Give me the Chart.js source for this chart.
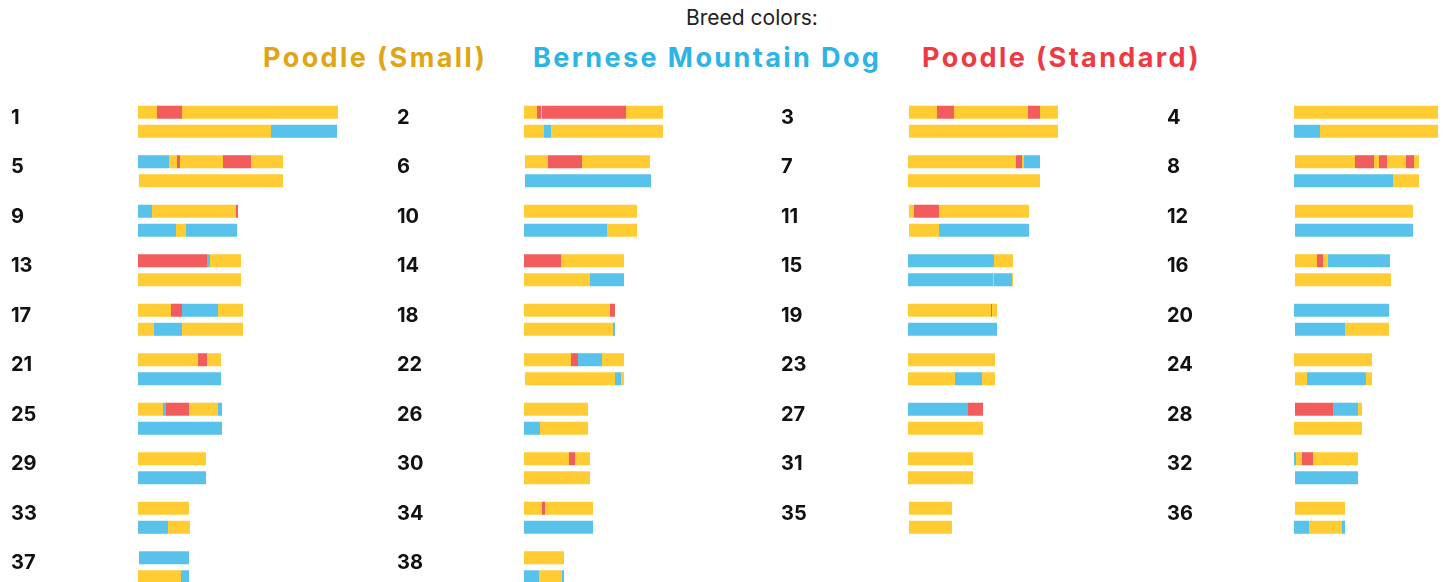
<!DOCTYPE html>
<html>
<head>
<meta charset="utf-8">
<title>Breed colors</title>
<script src="https://cdn.jsdelivr.net/npm/chart.js@4.4.1/dist/chart.umd.min.js"></script>
<style>
  html, body { margin: 0; padding: 0; background: #fff; width: 1446px; height: 582px; overflow: hidden; font-family: Inter, 'Noto Sans', sans-serif; }
  #title { position: absolute; top: 6px; left: 602px; width: 300px; text-align: center; font-size: 21px; line-height: 24px; color: #222; }
  .breed { position: absolute; top: 42px; font-size: 27px; line-height: 32px; font-weight: 700; letter-spacing: 2.4px; white-space: nowrap; }
  .col { position: absolute; top: 97px; width: 385px; height: 495px; }
</style>
</head>
<body>
<div id="title">Breed colors:</div>
<div class="breed" style="left:263px;color:#E0A514">Poodle (Small)</div>
<div class="breed" style="left:533px;color:#2DB4E6">Bernese Mountain Dog</div>
<div class="breed" style="left:922px;color:#EE3A44">Poodle (Standard)</div>
<div class="col" style="left:11px"><canvas id="col0" width="385" height="495"></canvas></div>
<div class="col" style="left:397px"><canvas id="col1" width="385" height="495"></canvas></div>
<div class="col" style="left:781px"><canvas id="col2" width="385" height="495"></canvas></div>
<div class="col" style="left:1167px"><canvas id="col3" width="385" height="495"></canvas></div>
<script>
// S = Poodle (Small), B = Bernese Mountain Dog, T = Poodle (Standard)
const breedColors = { S: '#FFCD33', B: '#58C2EA', T: '#F25C5C' };

const chromosomes = [1, 2, 3, 4, 5, 6, 7, 8, 9, 10, 11, 12, 13, 14, 15, 16, 17, 18, 19, 20,
    21, 22, 23, 24, 25, 26, 27, 28, 29, 30, 31, 32, 33, 34, 35, 36, 37, 38];

// segments per haplotype: [breed, start Mb, end Mb]
const hapA = [
    [['S', 0, 11.4], ['T', 11.4, 26.4], ['S', 26.4, 120]],
    [['S', 0, 7.8], ['T', 7.8, 10.2], ['S', 10.2, 10.8], ['T', 10.8, 61.2], ['S', 61.2, 83.4]],
    [['S', 0.6, 17.4], ['T', 17.4, 27.6], ['S', 27.6, 72], ['T', 72, 79.2], ['S', 79.2, 90]],
    [['S', 0, 86.4]],
    [['B', 0, 18.6], ['S', 18.6, 23.4], ['T', 23.4, 25.2], ['S', 25.2, 51], ['T', 51, 67.8], ['S', 67.8, 87]],
    [['S', 0.6, 14.4], ['T', 14.4, 34.8], ['S', 34.8, 75.6]],
    [['S', 0, 64.8], ['T', 64.8, 68.4], ['S', 68.4, 69.6], ['B', 69.6, 79.2]],
    [['S', 0.6, 36.6], ['T', 36.6, 48], ['S', 48, 51], ['T', 51, 55.8], ['S', 55.8, 67.2], ['T', 67.2, 72], ['S', 72, 75]],
    [['B', 0, 8.4], ['S', 8.4, 58.8], ['T', 58.8, 60]],
    [['S', 0, 67.8]],
    [['S', 0.6, 3.6], ['T', 3.6, 18.6], ['S', 18.6, 72.6]],
    [['S', 0.6, 71.4]],
    [['T', 0, 41.4], ['B', 41.4, 43.2], ['S', 43.2, 61.8]],
    [['T', 0, 22.2], ['S', 22.2, 60]],
    [['B', 0, 51.6], ['S', 51.6, 63]],
    [['S', 0.6, 13.8], ['T', 13.8, 17.4], ['S', 17.4, 20.4], ['B', 20.4, 57.6]],
    [['S', 0, 19.8], ['T', 19.8, 26.4], ['B', 26.4, 48], ['S', 48, 63]],
    [['S', 0, 51.6], ['T', 51.6, 54.6]],
    [['S', 0, 49.8], ['T', 49.8, 50.4], ['S', 50.4, 53.4]],
    [['B', 0, 57]],
    [['S', 0, 36], ['T', 36, 41.4], ['S', 41.4, 49.8]],
    [['S', 0, 28.2], ['T', 28.2, 32.4], ['B', 32.4, 46.8], ['S', 46.8, 60]],
    [['S', 0, 52.2]],
    [['S', 0, 46.8]],
    [['S', 0, 15], ['B', 15, 16.8], ['T', 16.8, 30.6], ['S', 30.6, 48], ['B', 48, 50.4]],
    [['S', 0, 38.4]],
    [['B', 0, 36], ['T', 36, 45]],
    [['T', 0.6, 23.4], ['B', 23.4, 38.4], ['S', 38.4, 40.8]],
    [['S', 0, 40.8]],
    [['S', 0, 27], ['T', 27, 30.6], ['S', 30.6, 39.6]],
    [['S', 0, 39]],
    [['B', 0, 1.2], ['S', 1.2, 4.8], ['T', 4.8, 11.4], ['S', 11.4, 38.4]],
    [['S', 0, 30.6]],
    [['S', 0, 10.8], ['T', 10.8, 12.6], ['S', 12.6, 41.4]],
    [['S', 0.6, 26.4]],
    [['S', 0.6, 30.6]],
    [['B', 0.6, 30.6]],
    [['S', 0, 24]]
];

const hapB = [
    [['S', 0, 79.8], ['B', 79.8, 119.4]],
    [['S', 0, 12], ['B', 12, 16.2], ['S', 16.2, 83.4]],
    [['S', 0.6, 90]],
    [['B', 0, 15.6], ['S', 15.6, 86.4]],
    [['S', 0.6, 87]],
    [['B', 0.6, 76.2]],
    [['S', 0, 79.2]],
    [['B', 0, 59.4], ['S', 59.4, 75]],
    [['B', 0, 22.8], ['S', 22.8, 28.8], ['B', 28.8, 59.4]],
    [['B', 0, 49.8], ['S', 49.8, 67.8]],
    [['S', 0.6, 18.6], ['B', 18.6, 72.6]],
    [['B', 0.6, 71.4]],
    [['S', 0, 61.8]],
    [['S', 0, 39.6], ['B', 39.6, 60]],
    [['B', 0, 51], ['S', 51, 51.6], ['B', 51.6, 62.4], ['S', 62.4, 63]],
    [['S', 0.6, 58.2]],
    [['S', 0, 9.6], ['B', 9.6, 26.4], ['S', 26.4, 63]],
    [['S', 0, 53.4], ['B', 53.4, 54.6]],
    [['B', 0, 53.4]],
    [['B', 0.6, 30.6], ['S', 30.6, 57]],
    [['B', 0, 49.8]],
    [['S', 0.6, 54.6], ['B', 54.6, 58.2], ['S', 58.2, 60]],
    [['S', 0, 28.2], ['B', 28.2, 44.4], ['S', 44.4, 52.2]],
    [['S', 0.6, 7.8], ['B', 7.8, 43.2], ['S', 43.2, 46.8]],
    [['B', 0, 50.4]],
    [['B', 0, 9.6], ['S', 9.6, 38.4]],
    [['S', 0, 45]],
    [['S', 0, 40.8]],
    [['B', 0, 40.8]],
    [['S', 0, 39.6]],
    [['S', 0, 39]],
    [['B', 0.6, 38.4]],
    [['B', 0, 18], ['S', 18, 31.2]],
    [['B', 0, 41.4]],
    [['S', 0.6, 26.4]],
    [['B', 0, 9], ['S', 9, 28.8], ['B', 28.8, 30.6]],
    [['S', 0, 25.8], ['B', 25.8, 30.6]],
    [['B', 0, 9], ['S', 9, 22.8], ['B', 22.8, 24]]
];

const columnCount = 4;
const rowCount = 10;
const xMaxMb = 154.8;

document.addEventListener('DOMContentLoaded', function() {
    for (let col = 0; col < columnCount; col++) {
        renderColumn(col);
    }
});

function renderColumn(col) {
    const ctx = document.getElementById('col' + col);
    if (!ctx) return;

    // chromosome indices for this column, padded to a full column
    const rows = [];
    for (let i = col; i < chromosomes.length; i += columnCount) rows.push(i);
    while (rows.length < rowCount) rows.push(null);

    const labels = rows.map(i => i === null ? '' : String(chromosomes[i]));
    const datasets = [];

    [['A', hapA], ['B', hapB]].forEach(([stack, haps]) => {
        const maxSegs = Math.max(...rows.map(i => i === null ? 0 : haps[i].length));
        for (let k = 0; k < maxSegs; k++) {
            const seg = i => (i === null ? null : haps[i][k] || null);
            datasets.push({
                stack: stack,
                data: rows.map(i => seg(i) ? [seg(i)[1], seg(i)[2]] : null),
                backgroundColor: rows.map(i => seg(i) ? breedColors[seg(i)[0]] : 'transparent'),
                borderWidth: 0,
                categoryPercentage: 0.77,
                barPercentage: 0.684
            });
        }
    });

    new Chart(ctx.getContext('2d'), {
        type: 'bar',
        data: { labels: labels, datasets: datasets },
        options: {
            indexAxis: 'y',
            responsive: false,
            animation: false,
            layout: { padding: 0 },
            plugins: {
                legend: { display: false },
                tooltip: { enabled: false }
            },
            scales: {
                x: {
                    type: 'linear',
                    min: 0,
                    max: xMaxMb,
                    stacked: false,
                    display: false
                },
                y: {
                    type: 'category',
                    grid: { display: false },
                    border: { display: false },
                    ticks: {
                        color: '#111',
                        font: { family: 'Inter', size: 20, weight: 'bold' },
                        crossAlign: 'far',
                        padding: 0,
                        labelOffset: -4
                    },
                    afterFit: function(scale) {
                        // fixed label gutter, no extra room above/below the rows
                        scale.width = 127;
                        scale.paddingTop = 0;
                        scale.paddingBottom = 0;
                    }
                }
            }
        }
    });
}
</script>
</body>
</html>
